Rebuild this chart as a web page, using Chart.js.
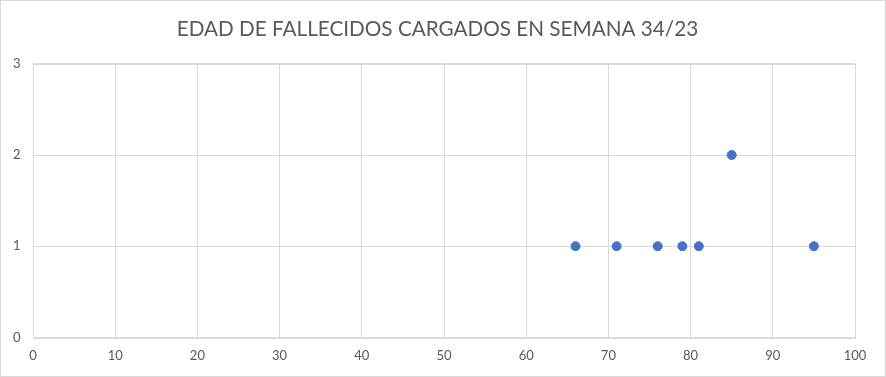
<!DOCTYPE html>
<html><head><meta charset="utf-8">
<script src="https://cdn.jsdelivr.net/npm/chart.js@4/dist/chart.umd.min.js"></script>
<style>
html,body{margin:0;padding:0;background:#fff;}
#wrap{width:886px;height:377px;box-sizing:border-box;border:1px solid #d9d9d9;}
canvas{display:block;}
</style></head><body>
<div id="wrap"><canvas id="c" width="884" height="375"></canvas></div>
<script>
const title = "EDAD DE FALLECIDOS CARGADOS EN SEMANA 34/23";
const ages = [66, 71, 76, 79, 81, 85, 95];
const counts = [1, 1, 1, 1, 1, 2, 1];
const xMin = 0, xMax = 100, xStep = 10;
const yMin = 0, yMax = 3, yStep = 1;

const pts = ages.map((a, i) => ({x: a, y: counts[i]}));
const font = "Lato, 'Open Sans', sans-serif";
new Chart(document.getElementById('c'), {
  type: 'scatter',
  data: { datasets: [{ data: pts, backgroundColor: '#4472C4', borderColor: '#4472C4', pointRadius: 4.5, pointHoverRadius: 4.5 }] },
  options: {
    responsive: false, animation: false,
    layout: { padding: { left: 19, right: 30, top: 10, bottom: 1 } },
    plugins: {
      legend: { display: false }, tooltip: { enabled: false },
      title: { display: true, text: title, color: '#595959', font: { family: font, size: 20.7, weight: 'normal' }, padding: { top: 6, bottom: 22 } }
    },
    scales: {
      x: { type: 'linear', min: xMin, max: xMax,
        ticks: { stepSize: xStep, color: '#595959', font: { family: font, size: 13 }, padding: 11, maxRotation: 0 },
        grid: { color: '#d9d9d9', drawTicks: false }, border: { display: true, color: '#d9d9d9' } },
      y: { min: yMin, max: yMax,
        afterFit(s) { s.width = 13; },
        ticks: { stepSize: yStep, color: '#595959', font: { family: font, size: 13 }, mirror: true, padding: -20 },
        grid: { color: '#d9d9d9', drawTicks: false }, border: { display: true, color: '#d9d9d9' } }
    }
  },
  plugins: [{ id: 'frame', afterDraw(ch) { const a = ch.chartArea, c = ch.ctx; c.save(); c.strokeStyle = '#d9d9d9'; c.lineWidth = 1; c.strokeRect(Math.round(a.left)+0.5, Math.round(a.top)+0.5, Math.round(a.right-a.left), Math.round(a.bottom-a.top)); c.restore(); } }]
});
</script></body></html>
